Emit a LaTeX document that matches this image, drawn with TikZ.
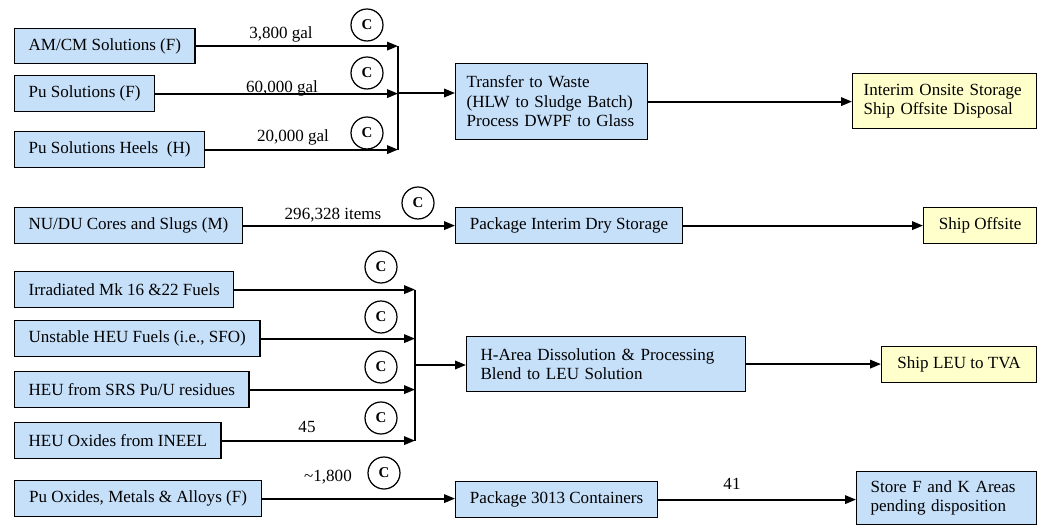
\documentclass[tikz,border=0pt]{standalone}
\usepackage{fontspec}
\setmainfont{Liberation Serif}
\usetikzlibrary{arrows.meta}
\definecolor{boxblue}{RGB}{198,224,250}
\definecolor{boxyellow}{RGB}{255,255,204}
\tikzset{
    box/.style={draw, line width=0.7pt, fill=boxblue, anchor=north west,
        inner xsep=0.28cm, inner ysep=0pt, minimum height=0.72cm,
        font=\fontsize{9.7}{11.1}\selectfont},
    endbox/.style={box, fill=boxyellow},
    flow/.style={line width=1.1pt, -{Triangle[length=0.22cm,width=0.17cm]}},
    bus/.style={line width=1.1pt},
    cmark/.style={draw, circle, line width=0.7pt, minimum size=0.64cm,
        inner sep=0pt, font=\fontsize{8.5}{9}\selectfont\bfseries},
    qty/.style={font=\fontsize{9.7}{11.1}\selectfont}
}
\begin{document}
\begin{tikzpicture}[x=0.02cm,y=-0.02cm]
    \useasboundingbox (0,0) rectangle (1038,526);
    % Solutions to waste
    \node[box, minimum width=3.6cm, minimum height=0.7cm] (amcm) at (14,28) {AM/CM Solutions (F)};
    \node[box, minimum width=2.8cm] (pusol) at (14,75) {Pu Solutions (F)};
    \node[box, minimum width=3.8cm] (heels) at (14,131) {Pu Solutions Heels\ \ (H)};
    \node[box, inner xsep=0.22cm, text width=3.4cm, align=left, minimum height=1.52cm] (transfer) at (455,63)
        {Transfer to Waste\\(HLW to Sludge Batch)\\Process DWPF to Glass};
    \node[endbox, inner xsep=0.22cm, text width=3.24cm, align=left, minimum height=1.1cm] (interim) at (852,73)
        {Interim Onsite Storage\\Ship Offsite Disposal};
    \coordinate (bar1) at (398,93);
    \foreach \n in {amcm,pusol,heels}
        \draw[flow] (\n.east) -- (\n.east -| bar1);
    \draw[bus] (amcm.east -| bar1) -- (heels.east -| bar1);
    \draw[flow] (bar1) -- (transfer.west |- bar1);
    \draw[flow] (transfer.east) -- (transfer.east -| interim.west);
    \node[qty] (q1) at (281,34) {3,800 gal};
    \node[qty] (q2) at (282,88) {60,000 gal};
    \node[qty] (q3) at (293,137) {20,000 gal};
    % Cores and slugs
    \node[box, minimum width=4.52cm] (nudu) at (14,207) {NU/DU Cores and Slugs (M)};
    \node[box, minimum width=4.54cm] (pkgdry) at (455,207) {Package Interim Dry Storage};
    \node[endbox, minimum width=2.26cm] (shipoff) at (923,207) {Ship Offsite};
    \draw[flow] (nudu.east) -- (nudu.east -| pkgdry.west);
    \draw[flow] (pkgdry.east) -- (pkgdry.east -| shipoff.west);
    \node[qty] (q4) at (333,215) {296,328 items};
    % HEU to LEU
    \node[box, minimum width=4.36cm] (irr) at (14,271) {Irradiated Mk 16 \&22 Fuels};
    \node[box, minimum width=4.88cm] (unst) at (14,320) {Unstable HEU Fuels (i.e., SFO)};
    \node[box, minimum width=4.66cm] (srs) at (14,371) {HEU from SRS Pu/U residues};
    \node[box, minimum width=4.1cm] (ineel) at (14,422) {HEU Oxides from INEEL};
    \node[box, text width=5.02cm, align=left, minimum height=1.1cm] (harea) at (466,336)
        {H-Area Dissolution \& Processing\\Blend to LEU Solution};
    \node[endbox, minimum width=3.1cm] (shipleu) at (881,346) {Ship LEU to TVA};
    \coordinate (bar2) at (415,365);
    \foreach \n in {irr,unst,srs,ineel}
        \draw[flow] (\n.east) -- (\n.east -| bar2);
    \draw[bus] (irr.east -| bar2) -- (ineel.east -| bar2);
    \draw[flow] (bar2) -- (harea.west |- bar2);
    \draw[flow] (harea.east) -- (harea.east -| shipleu.west);
    \node[qty] (q5) at (307,427) {45};
    % Pu oxides
    \node[box, minimum width=4.94cm] (puox) at (14,480) {Pu Oxides, Metals \& Alloys (F)};
    \node[box, minimum width=4.04cm] (pk3013) at (455,481) {Package 3013 Containers};
    \node[box, text width=3.04cm, align=left, minimum height=1.06cm] (store) at (856,471)
        {Store F and K Areas\\pending disposition};
    \draw[flow] (puox.east) -- (puox.east -| pk3013.west);
    \draw[flow] (pk3013.east) -- (pk3013.east -| store.west);
    \node[qty] (q6) at (328,477) {\textasciitilde1,800};
    \node[qty] (q7) at (732,484) {41};
    % Circled C marks
    \foreach \p [count=\k] in {(367,25),(367,73),(367,133),(418,203),(381,267),(381,317),(381,367),(381,418),(384,473)}
        \node[cmark] (c\k) at \p {C};
\end{tikzpicture}
\end{document}
